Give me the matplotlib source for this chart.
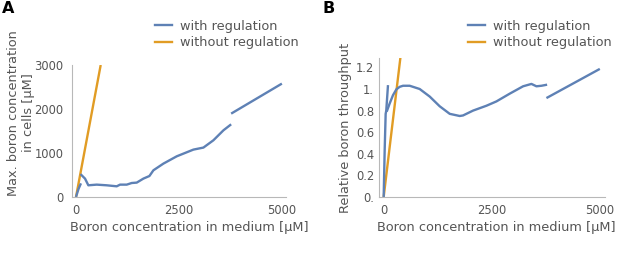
import matplotlib
matplotlib.use("Agg")
import matplotlib.pyplot as plt
from matplotlib.lines import Line2D

# Panel A: max. boron concentration in cells
a_with_x1 = [0, 60, 120]
a_with_y1 = [0, 180, 310]
a_with_x2 = [110, 219, 300, 503, 745, 989, 1070, 1232, 1353, 1475, 1637, 1783,
             1880, 2123, 2447, 2851, 3094, 3337, 3581, 3768]
a_with_y2 = [520, 418, 266, 281, 266, 243, 281, 281, 318, 327, 418, 477,
             607, 759, 925, 1077, 1123, 1289, 1516, 1652]
a_with_x3 = [3768, 5000]
a_with_y3 = [1895, 2577]
a_without_x = [0, 600]
a_without_y = [0, 3000]

# Panel B: relative boron throughput
b_with_x1 = [0, 23, 46, 60, 100]
b_with_y1 = [0, 0.43, 0.77, 0.80, 1.036]
b_with_x2 = [70, 139, 216, 293, 370, 448, 602, 833, 1065, 1296, 1528, 1759,
             1836, 2068, 2377, 2608, 2917, 3225, 3418, 3534, 3650, 3781]
b_with_y2 = [0.79, 0.866, 0.943, 0.996, 1.02, 1.03, 1.03, 1.0, 0.93, 0.84,
             0.77, 0.75, 0.755, 0.80, 0.845, 0.885, 0.957, 1.025, 1.047,
             1.025, 1.03, 1.04]
b_with_x3 = [3765, 5000]
b_with_y3 = [0.916, 1.186]
b_without_x = [0, 400]
b_without_y = [0, 1.333]

x_ticks = [0, 2500, 5000]
a_y_ticks = [0, 1000, 2000, 3000]
b_y_ticks = [0, 0.2, 0.4, 0.6, 0.8, 1.0, 1.2]
b_y_labels = ["0.", "0.2", "0.4", "0.6", "0.8", "1.", "1.2"]

BLUE = "#5E81B5"
ORANGE = "#E19C24"
TXT = "#555555"
SPINE = "#b8b8b8"
LBL = 9.3
TCK = 8.3

plt.rcParams["font.family"] = "DejaVu Sans"

W, H = 617, 265
fig = plt.figure(figsize=(W / 100, H / 100), dpi=100)


def px_axes(left, top, right, bottom):
    return fig.add_axes([left / W, 1 - bottom / H, (right - left) / W, (bottom - top) / H])


def style(ax):
    for s in ("top", "right"):
        ax.spines[s].set_visible(False)
    for s in ("left", "bottom"):
        ax.spines[s].set_color(SPINE)
        ax.spines[s].set_linewidth(0.8)
    ax.tick_params(length=0, labelsize=TCK, labelcolor=TXT)
    ax.tick_params(axis="x", pad=5)


lw = 1.7

# ---- A ----
ax = px_axes(72, 65, 286, 197)
ax.plot(a_without_x, a_without_y, color=ORANGE, lw=lw, solid_capstyle="butt")
for xs, ys in ((a_with_x1, a_with_y1), (a_with_x2, a_with_y2), (a_with_x3, a_with_y3)):
    ax.plot(xs, ys, color=BLUE, lw=lw, solid_capstyle="butt")
ax.set_xlim(-97, 5100)
ax.set_ylim(0, 3000)
ax.set_xticks(x_ticks)
ax.set_yticks(a_y_ticks)
ax.tick_params(axis="y", pad=6)
style(ax)

fig.text(70 / W, 1 - 228 / H, "Boron concentration in medium [\u00b5M]",
         fontsize=LBL, color=TXT, ha="left", va="center")
fig.text(21 / W, 1 - 113 / H, "Max. boron concentration\nin cells [\u00b5M]",
         fontsize=LBL, color=TXT, ha="center", va="center", rotation=90,
         multialignment="center", linespacing=1.2)

# ---- B ----
bx = px_axes(379, 58, 605, 197)
bx.plot(b_without_x, b_without_y, color=ORANGE, lw=lw, solid_capstyle="butt")
for xs, ys in ((b_with_x1, b_with_y1), (b_with_x2, b_with_y2), (b_with_x3, b_with_y3)):
    bx.plot(xs, ys, color=BLUE, lw=lw, solid_capstyle="butt")
bx.set_xlim(-108, 5120)
bx.set_ylim(0, 1.287)
bx.set_xticks(x_ticks)
bx.set_yticks(b_y_ticks)
bx.set_yticklabels(b_y_labels)
bx.tick_params(axis="y", pad=3.5)
style(bx)

fig.text(377 / W, 1 - 228 / H, "Boron concentration in medium [\u00b5M]",
         fontsize=LBL, color=TXT, ha="left", va="center")
fig.text(345 / W, 1 - 128 / H, "Relative boron throughput",
         fontsize=LBL, color=TXT, ha="center", va="center", rotation=90)

# ---- legends ----
handles = [Line2D([], [], color=BLUE, lw=lw), Line2D([], [], color=ORANGE, lw=lw)]
labels = ["with regulation", "without regulation"]
for x0 in (155, 468):
    fig.legend(handles, labels, loc="upper left",
               bbox_to_anchor=(x0 / W, 1 - 20 / H), frameon=False,
               fontsize=LBL, labelcolor=TXT, handlelength=1.35,
               handletextpad=0.6, labelspacing=0.25, borderpad=0,
               borderaxespad=0)

# ---- panel letters ----
fig.text(2 / W, 1 - 1 / H, "A", fontsize=11.5, fontweight="bold",
         color="black", ha="left", va="top")
fig.text(322 / W, 1 - 1 / H, "B", fontsize=11.5, fontweight="bold",
         color="black", ha="left", va="top")

fig.savefig("out.png", dpi=100)
